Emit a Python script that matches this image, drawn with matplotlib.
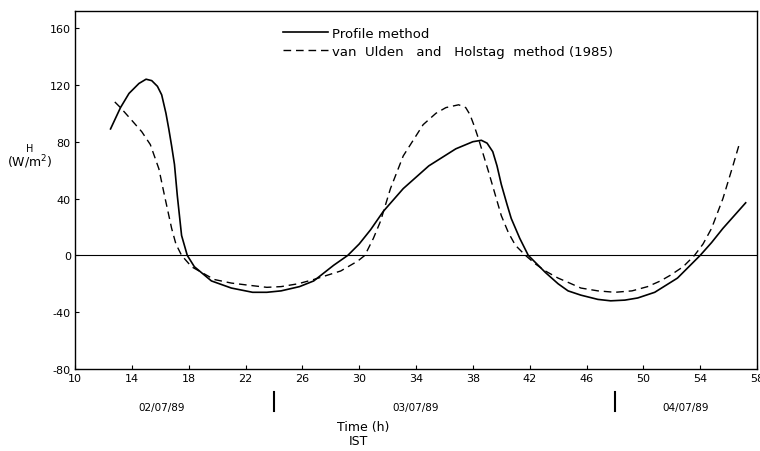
import matplotlib
matplotlib.use("Agg")
import matplotlib.pyplot as plt
import matplotlib.transforms as mtransforms

# profile method (solid)
prof_t = [12.5, 13.2, 13.8, 14.5, 15.0, 15.4, 15.8, 16.1, 16.4, 16.6, 16.8, 17.0,
          17.2, 17.5, 17.9, 18.4, 19.6, 21.0, 22.5, 23.5, 24.5, 25.8, 26.8, 28.2,
          29.2, 30.0, 30.8, 31.7, 33.1, 34.9, 36.8, 38.0, 38.6, 39.0, 39.4, 39.7,
          40.0, 40.4, 40.7, 41.3, 41.9, 43.1, 44.0, 44.7, 45.6, 46.8, 47.7, 48.7,
          49.6, 50.8, 51.6, 52.4, 53.2, 54.0, 54.8, 55.6, 56.4, 57.2]
prof_h = [89, 104, 114, 121, 124, 123, 119, 113, 100, 89, 77, 64,
          42, 14, 0, -8, -18, -23, -26, -26, -25, -22, -18, -7,
          0, 8, 18, 31, 47, 63, 75, 80, 81, 79, 73, 63,
          50, 36, 26, 12, 0, -12, -20, -25, -28, -31, -32, -31.5,
          -30, -26, -21, -16, -8, 0, 9, 19, 28, 37]

# van Ulden and Holstag method (dashed)
vuh_t = [12.8, 13.2, 14.0, 14.7, 15.3, 15.9, 16.3, 16.8, 17.1, 17.5, 18.2, 19.8,
         21.0, 22.2, 23.5, 24.5, 25.7, 26.8, 28.7, 29.9, 30.4, 31.0, 31.5, 32.2,
         33.1, 34.5, 35.4, 36.1, 37.0, 37.5, 37.8, 38.1, 38.4, 39.1, 40.0, 40.5,
         41.0, 41.7, 42.4, 43.1, 44.0, 44.7, 45.6, 46.8, 48.0, 49.2, 50.3, 51.2,
         51.9, 52.8, 53.6, 54.2, 54.8, 55.6, 56.3, 56.8]
vuh_h = [108, 104, 95, 87, 78, 61, 42, 19, 8, 0, -8, -17,
         -19.5, -21, -22.5, -22, -20, -17, -11, -4, 0, 12, 24, 47,
         70, 92, 100, 104, 106, 104, 99, 91, 82, 59, 28, 16,
         7, 0, -6, -11, -16, -19, -23, -25, -26, -25, -22, -18,
         -14, -8, 0, 8, 19, 40, 63, 80]

xticks = [10, 14, 18, 22, 26, 30, 34, 38, 42, 46, 50, 54, 58]
yticks = [-80, -40, 0, 40, 80, 120, 160]
date_pos = [16.1, 34.0, 53.0]
date_labels = ["02/07/89", "03/07/89", "04/07/89"]
day_breaks = [24, 48]

fig = plt.figure(figsize=(7.6, 4.52), dpi=100)
ax = fig.add_axes([0.0987, 0.1814, 0.8974, 0.7920])

ax.plot(prof_t, prof_h, color="black", lw=1.2, label="Profile method")
ax.plot(vuh_t, vuh_h, color="black", lw=1.0, ls=(0, (5.5, 3.5)),
        label="van  Ulden   and   Holstag  method (1985)")
ax.axhline(0, color="black", lw=0.8)

ax.set_xlim(10, 57.6)
ax.set_ylim(-80, 172)
ax.set_xticks(xticks)
ax.set_yticks(yticks)
ax.set_yticklabels([str(v) for v in yticks])
ax.tick_params(direction="in", length=3, labelsize=8, pad=3)
for s in ax.spines.values():
    s.set_linewidth(1.0)

ax.legend(loc="upper left", bbox_to_anchor=(0.305, 0.956), frameon=False,
          fontsize=9.5, handlelength=3.4, handletextpad=0.3, borderpad=0,
          borderaxespad=0, labelspacing=0.4)

trans = mtransforms.blended_transform_factory(ax.transData, ax.transAxes)
for t, lab in zip(date_pos, date_labels):
    ax.text(t, -0.105, lab, transform=trans, ha="center", va="center", fontsize=7.5)
for t in day_breaks:
    ax.plot([t, t], [-0.065, -0.118], transform=trans, color="black", lw=1.5,
            clip_on=False)

fig.text(363 / 760, 1 - 428 / 452, "Time (h)", ha="center", va="center", fontsize=9)
fig.text(358 / 760, 1 - 442 / 452, "IST", ha="center", va="center", fontsize=9)
fig.text(30 / 760, 1 - 149 / 452, "H", ha="center", va="center", fontsize=7)
fig.text(30 / 760, 1 - 162 / 452, "(W/m$^2$)", ha="center", va="center", fontsize=9)

fig.savefig("out.png", dpi=100)
